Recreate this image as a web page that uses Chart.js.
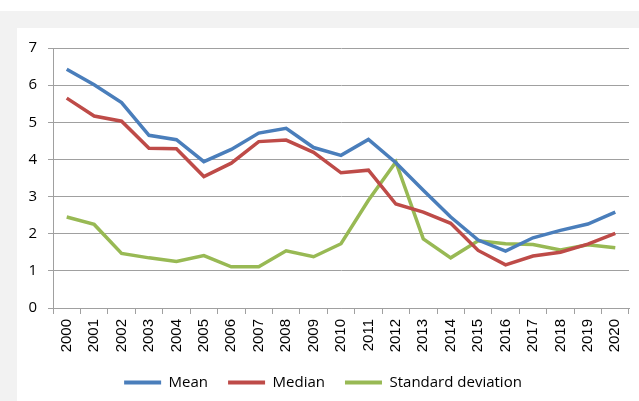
<!DOCTYPE html>
<html>
<head>
<meta charset="utf-8">
<script src="https://cdn.jsdelivr.net/npm/chart.js@4"></script>
<style>
  html, body { margin: 0; padding: 0; }
  body { width: 639px; height: 401px; background: #ffffff; position: relative; overflow: hidden; }
  #band { position: absolute; left: 0; top: 11px; width: 639px; height: 390px; background: #f2f2f2; }
  #box { position: absolute; left: 17px; top: 28px; width: 622px; height: 373px; background: #ffffff; }
  canvas { display: block; }
</style>
</head>
<body>
<div id="band"></div>
<div id="box"><canvas id="c" width="622" height="373"></canvas></div>
<script>
const years = ["2000","2001","2002","2003","2004","2005","2006","2007","2008","2009","2010",
               "2011","2012","2013","2014","2015","2016","2017","2018","2019","2020"];
const meanValues   = [6.43, 6.01, 5.53, 4.65, 4.53, 3.94, 4.27, 4.71, 4.84, 4.32, 4.11,
                      4.54, 3.91, 3.17, 2.45, 1.83, 1.53, 1.89, 2.09, 2.26, 2.58];
const medianValues = [5.65, 5.17, 5.03, 4.30, 4.29, 3.54, 3.90, 4.48, 4.52, 4.19, 3.64,
                      3.71, 2.80, 2.58, 2.28, 1.55, 1.16, 1.40, 1.50, 1.72, 2.01];
const sdValues     = [2.45, 2.25, 1.47, 1.35, 1.25, 1.41, 1.11, 1.11, 1.54, 1.38, 1.73,
                      2.90, 3.93, 1.86, 1.35, 1.81, 1.73, 1.71, 1.56, 1.70, 1.62];
const seriesNames  = ["Mean", "Median", "Standard deviation"];
const seriesColors = ["#4a7ebb", "#be4b48", "#98b954"];
const yTicks = [0, 1, 2, 3, 4, 5, 6, 7];

const gridGray = "#a0a0a0";
const allSeries = [meanValues, medianValues, sdValues];

new Chart(document.getElementById("c"), {
  type: "line",
  data: {
    labels: years,
    datasets: allSeries.map((vals, i) => ({
      label: seriesNames[i],
      data: vals,
      borderColor: seriesColors[i],
      backgroundColor: seriesColors[i],
      borderWidth: 3.5,
      pointRadius: 0,
      tension: 0,
      fill: false
    }))
  },
  options: {
    responsive: false,
    animation: false,
    layout: { padding: { left: 0, right: 10, top: 20, bottom: 1 } },
    plugins: {
      tooltip: { enabled: false },
      legend: {
        position: "bottom",
        labels: {
          boxWidth: 37,
          boxHeight: 4,
          padding: 20,
          color: "#000000",
          font: { family: "'Open Sans'", size: 15 },
          generateLabels: (chart) => chart.data.datasets.map((ds, i) => ({
            text: ds.label,
            fillStyle: ds.borderColor,
            strokeStyle: ds.borderColor,
            lineWidth: 0,
            datasetIndex: i,
            hidden: false
          }))
        }
      }
    },
    scales: {
      x: {
        offset: true,
        grid: {
          display: true,
          drawOnChartArea: false,
          drawTicks: true,
          tickLength: 6,
          color: gridGray,
          offset: true
        },
        border: { color: gridGray, width: 1 },
        ticks: {
          autoSkip: false,
          minRotation: 90,
          maxRotation: 90,
          padding: 5,
          color: "#000000",
          font: { family: "'Liberation Sans'", size: 15 }
        },
        afterFit: (s) => { s.height = 47; }
      },
      y: {
        min: 0,
        max: 7,
        afterBuildTicks: (s) => { s.ticks = yTicks.map(v => ({ value: v })); },
        grid: {
          color: gridGray,
          tickLength: 5,
          drawTicks: true
        },
        border: { color: gridGray, width: 1 },
        ticks: {
          padding: 11,
          color: "#000000",
          font: { family: "'Open Sans'", size: 15 }
        },
        afterFit: (s) => { s.width = 36; }
      }
    }
  }
});
</script>
</body>
</html>
